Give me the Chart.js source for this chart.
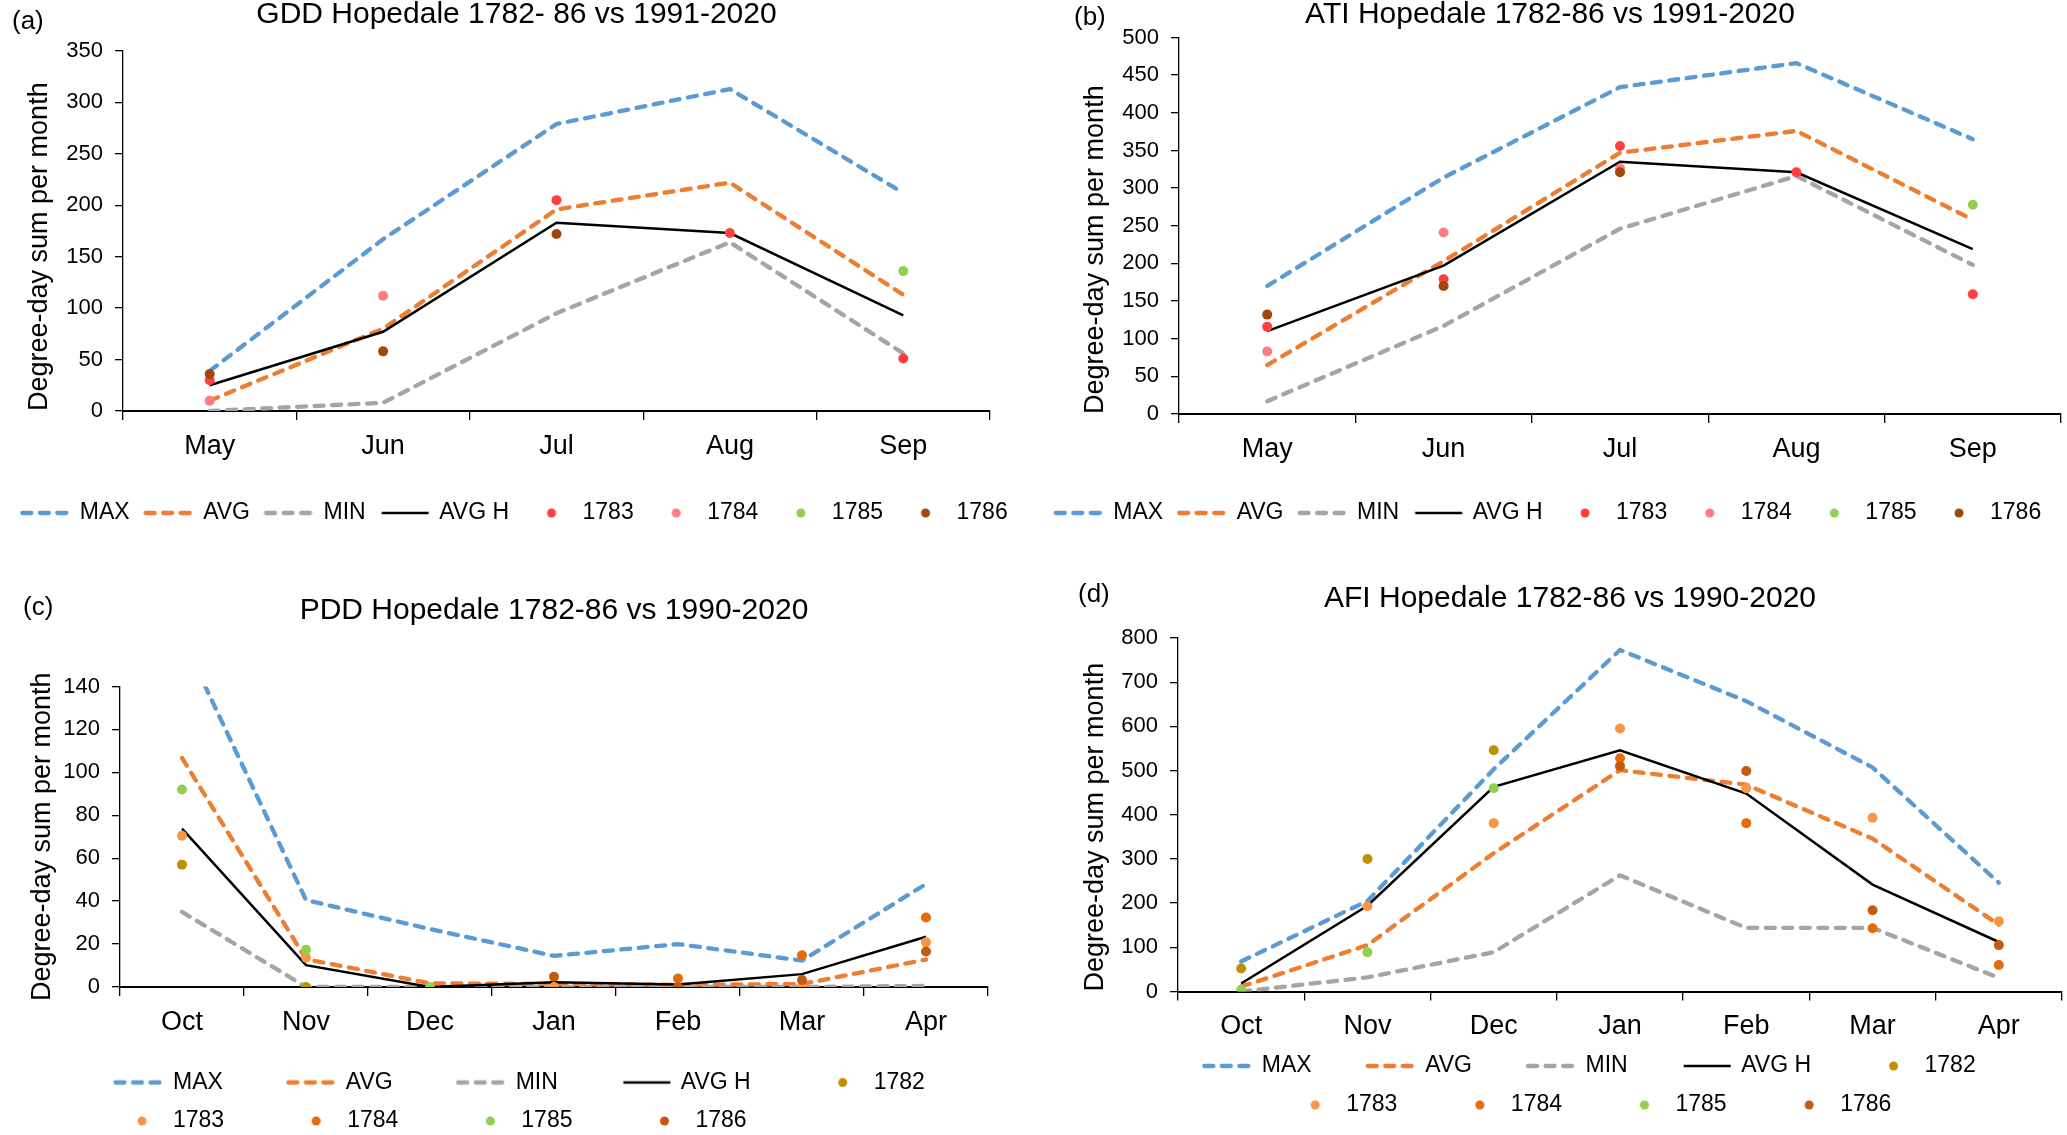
<!DOCTYPE html>
<html>
<head>
<meta charset="utf-8">
<title>Hopedale degree-day sums</title>
<script src="https://cdn.jsdelivr.net/npm/chart.js@4.4.1/dist/chart.umd.min.js"></script>
<style>
    html, body { margin: 0; padding: 0; background: #fff; }
    body { width: 2067px; height: 1135px; position: relative; overflow: hidden; }
    .panel { position: absolute; }
</style>
</head>
<body>
<div class="panel" style="left:0;top:0;width:1033px;height:545px"><canvas id="chartA"></canvas></div>
<div class="panel" style="left:1033px;top:0;width:1034px;height:545px"><canvas id="chartB"></canvas></div>
<div class="panel" style="left:0;top:560px;width:1033px;height:590px"><canvas id="chartC"></canvas></div>
<div class="panel" style="left:1033px;top:560px;width:1034px;height:575px"><canvas id="chartD"></canvas></div>
<script>
    // month labels
    const summerMonths = ['May', 'Jun', 'Jul', 'Aug', 'Sep'];
    const winterMonths = ['Oct', 'Nov', 'Dec', 'Jan', 'Feb', 'Mar', 'Apr'];

    // (a) GDD
    const gddMax = [39, 167, 279, 313, 212];
    const gddAvg = [10, 80, 196, 222, 113];
    const gddMin = [0, 8, 95, 164, 56];
    const gddAvgH = [25, 77, 183, 173, 93];
    const gdd1783 = [30, null, 205, 173, 51];
    const gdd1784 = [10, 112, null, null, null];
    const gdd1785 = [null, null, null, null, 136];
    const gdd1786 = [36, 58, 172, null, null];

    // (b) ATI
    const atiMax = [170, 314, 434, 466, 365];
    const atiAvg = [65, 203, 347, 376, 258];
    const atiMin = [17, 117, 246, 316, 198];
    const atiAvgH = [110, 197, 335, 321, 219];
    const ati1783 = [116, 179, 356, 321, 159];
    const ati1784 = [83, 241, 326, null, null];
    const ati1785 = [null, null, null, null, 278];
    const ati1786 = [132, 170, 321, null, null];

    // (c) PDD
    const pddMax = [163, 40.5, 27, 14.5, 20, 12.3, 48];
    const pddAvg = [106.7, 13, 1.7, 1.4, 1, 1.4, 12.8];
    const pddMin = [35, 0, 0, 0, 0, 0, 0.5];
    const pddAvgH = [73.8, 10.2, 0, 2.2, 1.2, 6, 23.4];
    const pdd1782 = [57, 0, null, null, null, null, null];
    const pdd1783 = [70.5, 13.7, null, 0, null, 0, 20.8];
    const pdd1784 = [null, null, null, null, 4, 14.8, 32.4];
    const pdd1785 = [92, 17.3, 0, null, null, null, null];
    const pdd1786 = [null, null, null, 4.8, 0, 3.3, 16.5];

    // (d) AFI
    const afiMax = [68, 205, 503, 773, 657, 507, 246];
    const afiAvg = [11, 105, 313, 501, 468, 346, 151];
    const afiMin = [0, 32, 89, 263, 144, 144, 31];
    const afiAvgH = [18, 194, 463, 546, 448, 242, 112];
    const afi1782 = [52, 300, 546, null, null, null, null];
    const afi1783 = [null, 193, 381, 595, 460, 393, 159];
    const afi1784 = [null, null, null, 528, 381, 143, 60];
    const afi1785 = [4, 89, 460, null, null, null, null];
    const afi1786 = [null, null, null, 510, 499, 184, 105];

    const BLUE = '#5b9bd5', ORANGE = '#ed7d31', GREY = '#a5a5a5', BLACK = '#000000';

    Chart.defaults.font.family = '"Liberation Sans", Arial, sans-serif';
    Chart.defaults.color = '#000';

    function lineSet(label, data, color, dashed, order) {
        return {
            label, data, order,
            borderColor: color, backgroundColor: color,
            borderWidth: dashed ? 4.3 : 2.5,
            borderDash: dashed ? [9, 8.5] : [],
            borderCapStyle: dashed ? 'round' : 'butt',
            pointRadius: 0, pointHoverRadius: 0,
            tension: 0, fill: false, yAxisID: 'y'
        };
    }

    function dotSet(label, data, color, order) {
        return {
            label, data, order,
            showLine: false,
            borderColor: color, backgroundColor: color,
            pointBackgroundColor: color, pointBorderWidth: 0,
            pointRadius: 5, pointHoverRadius: 5, yAxisID: 'y'
        };
    }

    // legend icons: small canvases, the mark sits at the right end of the box
    function lineIcon(color, dash, width, boxW) {
        const c = document.createElement('canvas');
        c.width = 2 * boxW + 120; c.height = 12;
        const g = c.getContext('2d');
        const right = c.width / 2 + boxW / 2;
        g.strokeStyle = color; g.lineWidth = width;
        g.setLineDash(dash); g.lineCap = dash.length ? 'round' : 'butt';
        g.beginPath(); g.moveTo(right - 46, 6); g.lineTo(right + 1, 6); g.stroke();
        return c;
    }

    function dotIcon(color, boxW) {
        const c = document.createElement('canvas');
        c.width = 2 * boxW + 120; c.height = 12;
        const g = c.getContext('2d');
        g.fillStyle = color;
        g.beginPath(); g.arc(c.width / 2 + boxW / 2 - 19.5, 6, 4.5, 0, Math.PI * 2); g.fill();
        return c;
    }

    // panel letter (a), (b) ...
    const panelLetter = {
        id: 'panelLetter',
        afterDraw(chart, args, opts) {
            const ctx = chart.ctx;
            ctx.save();
            ctx.font = '26px "Liberation Sans", Arial, sans-serif';
            ctx.fillStyle = '#000';
            ctx.textBaseline = 'middle';
            ctx.fillText(opts.text, opts.x, opts.y);
            ctx.restore();
        }
    };

    function buildChart(id, p) {
        const icons = p.datasets.map(ds => ds.showLine === false
            ? dotIcon(ds.backgroundColor, p.boxW)
            : lineIcon(ds.borderColor, ds.borderDash, ds.borderWidth, p.boxW));

        return new Chart(document.getElementById(id), {
            type: 'line',
            data: { labels: p.labels, datasets: p.datasets },
            options: {
                responsive: true,
                maintainAspectRatio: false,
                animation: false,
                layout: { padding: { left: p.padL, right: 0, top: 0, bottom: p.padB } },
                plugins: {
                    title: {
                        display: true, text: p.title, fullSize: p.titleFull, color: '#000',
                        font: { size: 30, weight: 'normal', lineHeight: 1 },
                        padding: { top: p.titleTop, bottom: p.titleBottom }
                    },
                    legend: {
                        position: 'bottom', align: p.legendAlign,
                        labels: {
                            usePointStyle: true, pointStyleWidth: p.boxW,
                            font: { size: 23 }, color: '#000', padding: p.legendPad,
                            generateLabels: chart => chart.data.datasets.map((ds, i) => ({
                                text: ds.label, pointStyle: icons[i], datasetIndex: i,
                                hidden: false, lineWidth: 0, fontColor: '#000',
                                fillStyle: 'transparent', strokeStyle: 'transparent'
                            }))
                        }
                    },
                    tooltip: { enabled: false },
                    panelLetter: { text: p.letter, x: p.letterX, y: p.letterY }
                },
                scales: {
                    x: {
                        offset: true,
                        grid: { display: true, drawOnChartArea: false, drawTicks: true, tickLength: 9, color: '#000', lineWidth: 1.3, offset: true },
                        border: { display: true, color: '#000', width: 2 },
                        ticks: { font: { size: 27 }, color: '#000', padding: 10, maxRotation: 0, autoSkip: false },
                        afterFit: s => { s.height = p.xH; }
                    },
                    y: {
                        min: 0, max: p.yMax,
                        ticks: { stepSize: p.yStep, font: { size: 22 }, color: '#000', padding: 12 },
                        grid: { display: true, drawOnChartArea: false, drawTicks: true, tickLength: 8, color: '#000', lineWidth: 1.3 },
                        border: { display: true, color: '#000', width: 1.3 },
                        title: {
                            display: true, text: 'Degree-day sum per month', color: '#000',
                            font: { size: 27 }, align: p.yTitleAlign,
                            padding: { top: p.yTitlePad, bottom: 0 }
                        },
                        afterFit: s => { s.width = p.yW; }
                    },
                    yR: {
                        axis: 'y', position: 'right', display: true,
                        grid: { display: false }, border: { display: false }, ticks: { display: false },
                        afterFit: s => { s.width = p.rightW; }
                    }
                }
            },
            plugins: [panelLetter]
        });
    }

    // (a)
    buildChart('chartA', {
        labels: summerMonths, yMax: 350, yStep: 50,
        title: 'GDD Hopedale 1782- 86 vs 1991-2020', titleFull: true, titleTop: 0, titleBottom: 21,
        letter: '(a)', letterX: 12, letterY: 22,
        padL: 0, padB: 10.5, yW: 123, rightW: 43, xH: 71.5,
        yTitlePad: 23.8, yTitleAlign: 'start',
        boxW: 43, legendPad: 19, legendAlign: 'center',
        datasets: [
            lineSet('MAX', gddMax, BLUE, true, 10),
            lineSet('AVG', gddAvg, ORANGE, true, 9),
            lineSet('MIN', gddMin, GREY, true, 8),
            lineSet('AVG H', gddAvgH, BLACK, false, 7),
            dotSet('1783', gdd1783, '#ff4040', 3),
            dotSet('1784', gdd1784, '#ff7c80', 2),
            dotSet('1785', gdd1785, '#92d050', 1),
            dotSet('1786', gdd1786, '#9e480e', 0)
        ]
    });

    // (b)
    buildChart('chartB', {
        labels: summerMonths, yMax: 500, yStep: 50,
        title: 'ATI Hopedale 1782-86 vs 1991-2020', titleFull: true, titleTop: 0, titleBottom: 7.5,
        letter: '(b)', letterX: 41, letterY: 18,
        padL: 0, padB: 10.5, yW: 146, rightW: 6, xH: 68.5,
        yTitlePad: 46.8, yTitleAlign: 'start',
        boxW: 43, legendPad: 19, legendAlign: 'center',
        datasets: [
            lineSet('MAX', atiMax, BLUE, true, 10),
            lineSet('AVG', atiAvg, ORANGE, true, 9),
            lineSet('MIN', atiMin, GREY, true, 8),
            lineSet('AVG H', atiAvgH, BLACK, false, 7),
            dotSet('1783', ati1783, '#ff4040', 3),
            dotSet('1784', ati1784, '#ff7c80', 2),
            dotSet('1785', ati1785, '#92d050', 1),
            dotSet('1786', ati1786, '#9e480e', 0)
        ]
    });

    // (c)
    buildChart('chartC', {
        labels: winterMonths, yMax: 140, yStep: 20,
        title: 'PDD Hopedale 1782-86 vs 1990-2020', titleFull: false, titleTop: 36, titleBottom: 60.5,
        letter: '(c)', letterX: 23, letterY: 48,
        padL: 50, padB: 7.5, yW: 70, rightW: 45, xH: 68.5,
        yTitlePad: -23.2, yTitleAlign: 'center',
        boxW: 96, legendPad: 15.5, legendAlign: 'start',
        datasets: [
            lineSet('MAX', pddMax, BLUE, true, 10),
            lineSet('AVG', pddAvg, ORANGE, true, 9),
            lineSet('MIN', pddMin, GREY, true, 8),
            lineSet('AVG H', pddAvgH, BLACK, false, 7),
            dotSet('1782', pdd1782, '#bf9000', 4),
            dotSet('1783', pdd1783, '#f79646', 3),
            dotSet('1784', pdd1784, '#e46c0a', 2),
            dotSet('1785', pdd1785, '#92d050', 1),
            dotSet('1786', pdd1786, '#c55a11', 0)
        ]
    });

    // (d)
    buildChart('chartD', {
        labels: winterMonths, yMax: 800, yStep: 100,
        title: 'AFI Hopedale 1782-86 vs 1990-2020', titleFull: true, titleTop: 23.5, titleBottom: 24.5,
        letter: '(d)', letterX: 45, letterY: 35,
        padL: 40, padB: 8.5, yW: 105, rightW: 2, xH: 47,
        yTitlePad: 6.8, yTitleAlign: 'start',
        boxW: 86, legendPad: 16, legendAlign: 'center',
        datasets: [
            lineSet('MAX', afiMax, BLUE, true, 10),
            lineSet('AVG', afiAvg, ORANGE, true, 9),
            lineSet('MIN', afiMin, GREY, true, 8),
            lineSet('AVG H', afiAvgH, BLACK, false, 7),
            dotSet('1782', afi1782, '#bf9000', 4),
            dotSet('1783', afi1783, '#f79646', 3),
            dotSet('1784', afi1784, '#e46c0a', 2),
            dotSet('1785', afi1785, '#92d050', 1),
            dotSet('1786', afi1786, '#c55a11', 0)
        ]
    });
</script>
</body>
</html>
